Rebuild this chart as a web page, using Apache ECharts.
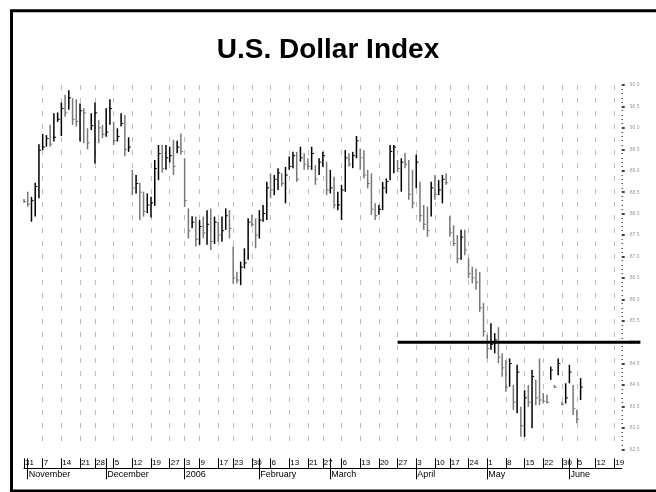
<!DOCTYPE html>
<html>
<head>
<meta charset="utf-8">
<script src="https://cdn.jsdelivr.net/npm/echarts@6/dist/echarts.min.js"></script>
<style>
  html, body { margin: 0; padding: 0; background: #fff; }
  #chart { width: 656px; height: 492px; }
</style>
</head>
<body>
<div id="chart"></div>
<script>
// trading calendar
const startDate = '2005-10-31';
const axisEnd = '2006-06-21';   // right edge of the price axis
const lineEnd = '2006-06-28';   // the 85.0 level line runs past the axis
const holidays = ['2005-11-24', '2005-12-26', '2006-01-02', '2006-01-16',
  '2006-02-20', '2006-04-14', '2006-05-29'];
const monthLabels = ['November', 'December', '2006', 'February', 'March', 'April', 'May', 'June'];

// daily bars
const highs = [88.34,88.51,88.39,88.72,89.62,89.86,89.83,90.07,90.34,90.36,
  90.59,90.77,90.88,90.69,90.67,90.57,90.46,89.99,90.34,90.59,
  90.18,90.07,90.46,90.67,90.14,89.99,90.34,90.30,89.78,89.02,
  88.90,88.72,88.51,88.47,88.39,89.25,89.60,89.60,89.60,89.56,
  89.72,89.70,89.87,89.29,88.12,87.94,87.93,87.85,87.93,88.08,
  88.11,87.93,87.81,87.93,88.12,88.08,87.23,86.64,86.88,87.19,
  87.89,87.98,87.89,88.08,88.20,88.74,88.94,88.90,89.06,88.94,
  89.09,89.33,89.44,89.44,89.56,89.41,89.29,89.56,89.13,89.29,
  89.44,89.21,89.02,88.86,88.51,88.67,89.48,89.41,89.44,89.81,
  89.52,89.48,89.02,88.94,88.24,88.20,88.74,88.82,89.60,89.60,
  89.25,89.29,89.42,89.25,89.02,89.37,88.74,88.20,88.16,88.74,
  88.90,88.78,88.90,88.94,87.94,87.73,87.50,87.62,87.62,86.96,
  86.76,86.72,86.64,85.91,85.17,85.44,85.21,85.35,84.74,84.58,
  84.62,84.00,84.47,83.49,83.88,84.00,84.35,84.12,84.62,83.81,
  83.77,84.43,84.00,84.62,83.61,84.04,84.47,84.00,83.42,84.16];
const lows = [88.25,88.16,87.81,87.93,88.36,89.48,89.56,89.56,89.68,90.14,
  89.81,90.26,90.42,90.07,90.03,89.68,89.64,89.50,89.95,89.17,
  89.64,89.76,89.79,90.07,89.60,89.68,90.03,89.34,89.44,88.43,
  88.47,87.85,87.93,88.01,87.91,88.18,88.78,88.95,89.02,89.19,
  88.90,89.41,89.37,88.16,87.42,87.66,87.23,87.27,87.42,87.27,
  87.15,87.29,87.34,87.34,87.62,87.42,86.37,86.37,86.33,86.72,
  86.92,87.69,87.19,87.42,87.81,87.85,88.36,88.43,88.55,88.63,
  88.24,89.02,89.06,88.74,89.21,89.02,89.02,89.02,88.67,88.90,
  89.09,88.43,88.47,88.12,88.08,87.85,88.51,89.09,89.06,89.29,
  89.02,88.82,88.59,87.97,87.85,87.97,88.08,88.47,88.78,88.94,
  88.97,88.51,89.06,88.32,88.12,88.59,87.81,87.62,87.46,87.93,
  88.32,88.43,88.24,88.67,87.46,87.24,86.84,86.92,87.03,86.49,
  86.37,86.22,85.71,85.13,84.62,84.82,84.74,84.51,84.19,83.84,
  83.96,83.42,83.34,82.79,82.79,83.49,82.99,83.53,83.53,83.57,
  83.57,84.12,83.93,84.23,83.53,83.57,84.04,83.30,83.11,83.65];
const closes = [88.28,88.22,88.30,88.63,89.48,89.55,89.75,89.62,89.78,90.20,
  90.45,90.35,90.70,90.20,90.15,90.40,90.35,89.65,90.05,90.35,
  90.00,89.85,89.90,90.45,89.70,89.80,90.10,89.50,89.55,88.60,
  88.70,88.50,88.05,88.20,88.25,89.05,89.40,89.05,89.30,89.35,
  89.10,89.55,89.45,88.30,87.60,87.80,87.40,87.70,87.55,87.75,
  87.35,87.80,87.50,87.60,87.95,87.65,86.50,86.45,86.75,86.85,
  87.80,87.75,87.50,87.85,88.00,88.60,88.55,88.80,88.95,88.70,
  88.90,89.10,89.35,88.80,89.30,89.15,89.10,89.40,88.80,89.20,
  89.35,88.55,88.60,88.20,88.20,88.55,89.30,89.15,89.35,89.70,
  89.30,88.90,88.70,88.10,87.95,88.10,88.60,88.75,89.45,89.55,
  89.05,89.20,89.15,88.45,88.25,89.20,87.95,87.75,87.60,88.60,
  88.45,88.55,88.80,88.72,87.55,87.30,86.95,87.45,87.15,86.60,
  86.50,86.40,85.80,85.25,84.85,84.95,85.05,84.65,84.40,83.95,
  84.50,83.60,84.30,83.05,83.70,83.60,84.20,83.70,83.65,83.62,
  83.60,84.35,83.95,84.50,83.55,83.70,84.30,83.45,83.20,83.95];

const levelStart = '2006-03-27';
const levelValue = 85.0;
const yMin = 82.5, yMax = 91.0, yStep = 0.5;

function tradingDays(from, to) {
  const out = [];
  const d = new Date(from + 'T00:00:00Z');
  const end = new Date(to + 'T00:00:00Z');
  while (d <= end) {
    const wd = d.getUTCDay();
    const s = d.toISOString().slice(0, 10);
    if (wd !== 0 && wd !== 6 && holidays.indexOf(s) < 0) out.push(s);
    d.setUTCDate(d.getUTCDate() + 1);
  }
  return out;
}

const days = tradingDays(startDate, axisEnd);
const daysLong = tradingDays(startDate, lineEnd);
const weekday = s => new Date(s + 'T00:00:00Z').getUTCDay();

const isWeek = days.map((s, i) => i === 0 || weekday(s) <= weekday(days[i - 1]));
const isMonth = days.map((s, i) => i > 0 && s.slice(5, 7) !== days[i - 1].slice(5, 7));
const monthText = {};
let m = 0;
days.forEach((s, i) => { if (isMonth[i]) monthText[s] = monthLabels[m++]; });

const bars = highs.map((h, i) => [i, h, lows[i], closes[i],
  (i > 0 && closes[i] >= closes[i - 1]) ? 1 : 0]);

// layout: grid 0 holds the bars, grid 1 shares its day width but reaches further right
const W = 656, gridLeft = 24, axisX = 621.7;
const step = (axisX - gridLeft) / (days.length - 1);
const longWidth = step * (daysLong.length - 1);
const font = 'Liberation Sans, Arial, sans-serif';

const chart = echarts.init(document.getElementById('chart'), null, { renderer: 'canvas' });

chart.setOption({
  animation: false,
  backgroundColor: '#fff',
  title: {
    text: 'U.S. Dollar Index',
    left: 'center',
    top: 31,
    textStyle: { fontSize: 28, fontWeight: 'bold', color: '#000', fontFamily: font }
  },
  graphic: [{
    type: 'rect',
    shape: { x: 11.5, y: 10.8, width: 700, height: 480.2 },
    style: { fill: 'none', stroke: '#000', lineWidth: 3 },
    silent: true
  }],
  grid: [
    { left: gridLeft, right: W - axisX, top: 85, bottom: 42.7 },
    { left: gridLeft, right: W - gridLeft - longWidth, top: 85, bottom: 42.7 }
  ],
  xAxis: [
    {
      type: 'category', gridIndex: 0, data: days, boundaryGap: false,
      position: 'bottom', offset: 19,
      axisLine: { show: true, lineStyle: { color: '#000', width: 1 } },
      axisTick: { show: true, inside: true, length: 10, interval: i => isWeek[i] || isMonth[i],
        lineStyle: { color: '#000', width: 1 } },
      axisLabel: {
        show: true, inside: true, interval: i => isWeek[i],
        formatter: v => String(Number(v.slice(8))),
        align: 'left', margin: 2, padding: [0, 0, 0, 1],
        fontSize: 8, color: '#000', fontFamily: font
      },
      splitLine: { show: true, interval: i => i > 0 && isWeek[i],
        lineStyle: { color: '#bdbdbd', width: 1, type: [5, 8] } }
    },
    {
      type: 'category', gridIndex: 0, data: days, boundaryGap: false,
      position: 'bottom', offset: 19,
      axisLine: { show: false },
      axisTick: { show: true, length: 11, interval: i => isMonth[i],
        lineStyle: { color: '#000', width: 1 } },
      axisLabel: {
        show: true, interval: i => isMonth[i],
        formatter: v => monthText[v] || '',
        align: 'left', margin: 2, padding: [0, 0, 0, 1],
        fontSize: 9, color: '#000', fontFamily: font
      },
      splitLine: { show: false }
    },
    {
      type: 'category', gridIndex: 1, data: daysLong, boundaryGap: false, show: false
    }
  ],
  yAxis: [
    {
      type: 'value', gridIndex: 0, position: 'right',
      min: yMin, max: yMax, interval: yStep,
      axisLine: { show: false },
      axisTick: { show: true, length: 3, lineStyle: { color: '#000', width: 1.5 } },
      minorTick: { show: true, splitNumber: 5, length: 1, lineStyle: { color: '#000', width: 1 } },
      axisLabel: { margin: 8, fontSize: 5, color: '#999', fontFamily: font,
        formatter: v => v.toFixed(1) },
      splitLine: { show: false }
    },
    {
      type: 'value', gridIndex: 1, min: yMin, max: yMax, show: false, splitLine: { show: false }
    }
  ],
  series: [
    {
      type: 'custom',
      xAxisIndex: 0, yAxisIndex: 0,
      data: bars,
      encode: { x: 0, y: [1, 2, 3] },
      renderItem: function (params, api) {
        const i = api.value(0);
        const hi = api.coord([i, api.value(1)]);
        const lo = api.coord([i, api.value(2)]);
        const cl = api.coord([i, api.value(3)]);
        const color = api.value(4) ? '#000' : '#777';
        return {
          type: 'group',
          children: [
            { type: 'line', shape: { x1: hi[0], y1: hi[1], x2: lo[0], y2: lo[1] },
              style: { stroke: color, lineWidth: 1.5 } },
            { type: 'line', shape: { x1: cl[0], y1: cl[1], x2: cl[0] + 2.2, y2: cl[1] },
              style: { stroke: color, lineWidth: 1 } }
          ]
        };
      },
      z: 3
    },
    {
      type: 'line',
      xAxisIndex: 2, yAxisIndex: 1,
      data: [[levelStart, levelValue], [lineEnd, levelValue]],
      symbol: 'none',
      lineStyle: { color: '#000', width: 3 },
      silent: true,
      z: 4
    }
  ]
});
</script>
</body>
</html>
